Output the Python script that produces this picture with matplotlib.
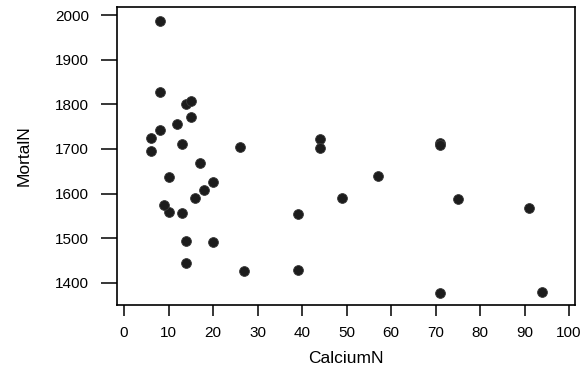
import matplotlib
matplotlib.use('Agg')
import matplotlib.pyplot as plt

calcium = [17, 14, 18, 10, 15, 10, 12, 20, 39, 39, 44, 94, 8, 9, 91, 16, 15, 8,
           26, 44, 27, 6, 6, 13, 14, 49, 8, 14, 75, 71, 13, 57, 71, 20, 71]
mortal = [1668, 1800, 1609, 1558, 1807, 1637, 1755, 1491, 1555, 1428, 1723, 1379,
          1742, 1574, 1569, 1591, 1772, 1828, 1704, 1702, 1427, 1724, 1696, 1711,
          1444, 1591, 1987, 1495, 1587, 1713, 1557, 1640, 1709, 1625, 1378]
xticks = [0, 10, 20, 30, 40, 50, 60, 70, 80, 90, 100]
yticks = [1400, 1500, 1600, 1700, 1800, 1900, 2000]

plt.rcParams['font.family'] = ['Liberation Sans', 'DejaVu Sans']

fig = plt.figure(figsize=(5.8, 3.7), dpi=100)
ax = fig.add_axes([0.2017, 0.1757, 0.7897, 0.8053])

ax.scatter(calcium, mortal, s=50, color='#1c1c1c', edgecolors='#3a3a3a',
           linewidths=0.6, zorder=3)

ax.set_xlim(-1.6, 101.35)
ax.set_ylim(1350.7, 2017.9)
ax.set_xticks(xticks)
ax.set_yticks(yticks)
ax.tick_params(axis='x', length=8, width=1.1, pad=7, labelsize=11, direction='out')
ax.tick_params(axis='y', length=11.5, width=1.1, pad=8.5, labelsize=11, direction='out')
for sp in ax.spines.values():
    sp.set_linewidth(1.2)

ax.set_xlabel('CalciumN', fontsize=12.5, labelpad=8)
ax.set_ylabel('MortalN', fontsize=12.5, labelpad=17)

fig.savefig('out.png', dpi=100)
